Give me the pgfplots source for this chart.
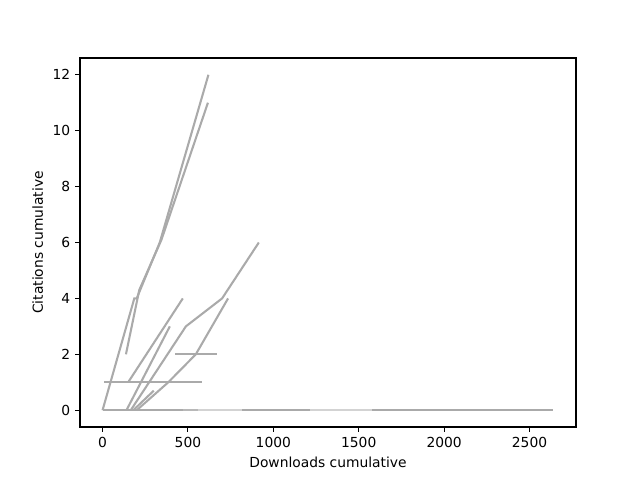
\documentclass[border=0pt]{standalone}
\usepackage{pgfplots}
\pgfplotsset{compat=1.18}
\usepackage{fontspec}
\setmainfont{DejaVu Sans}
\definecolor{ln}{HTML}{AAAAAA}
\definecolor{lnlight}{HTML}{D3D3D3}
\definecolor{lnmid}{HTML}{B8B8B8}

\begin{document}
\begin{tikzpicture}
\begin{axis}[
  scale only axis,
  width=4.96in, height=3.69in,
  xmin=-132, xmax=2772,
  ymin=-0.6, ymax=12.6,
  xtick={0,500,...,2500},
  ytick={0,2,...,12},
  tick align=outside,
  xtick pos=bottom, ytick pos=left,
  major tick length=3.5pt,
  tick style={black, line width=0.8pt},
  axis line style={line width=0.8pt},
  /pgf/number format/assume math mode=true,
  /pgf/number format/1000 sep={},
  ticklabel style={font=\fontsize{10}{12}\selectfont},
  label style={font=\fontsize{10}{12}\selectfont},
  xlabel={Downloads cumulative},
  ylabel={Citations cumulative},
  every axis plot/.append style={line width=1.5pt, no markers},
  clip=true,
]
% papers that never got a citation
\addplot[ln] coordinates {(0,0) (2640,0)};
\addplot[lnmid] coordinates {(470,0) (560,0)};
\addplot[lnlight] coordinates {(560,0) (817,0)};
\addplot[lnlight] coordinates {(1215,0) (1580,0)};
% the rest
\addplot[ln] coordinates {(0,0) (186,4) (200,4) (335,6) (620,12)};
\addplot[ln] coordinates {(137,2) (215,4.3) (345,6.1) (617,11)};
\addplot[ln] coordinates {(165,0) (488,3) (700,4) (915,6)};
\addplot[ln] coordinates {(200,0) (385,1) (546,2) (735,4)};
\addplot[ln] coordinates {(425,2) (669,2)};
\addplot[ln] coordinates {(10,1) (580,1)};
\addplot[ln] coordinates {(150,1) (470,4)};
\addplot[ln] coordinates {(140,0) (394,3)};
\addplot[ln] coordinates {(180,0) (300,0.7)};
\end{axis}
\path (current axis.south west) ++(-0.8in,-0.53in) (current axis.north east) ++(0.64in,0.58in);
\end{tikzpicture}
\end{document}
